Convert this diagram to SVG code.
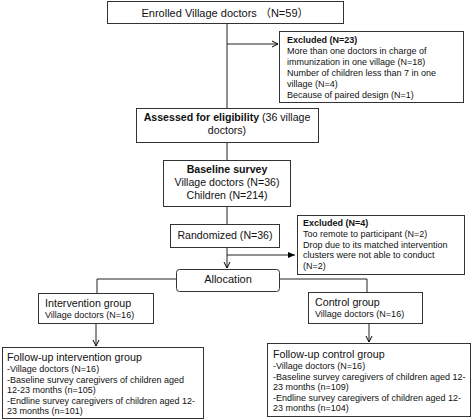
<svg xmlns="http://www.w3.org/2000/svg" width="472" height="420" viewBox="0 0 472 420">
<defs>
<marker id="open" markerWidth="8" markerHeight="8" refX="7" refY="4" orient="auto" markerUnits="userSpaceOnUse">
<path d="M1,1 L7,4 L1,7" fill="none" stroke="#000" stroke-width="1"/>
</marker>
<marker id="solid" markerWidth="8" markerHeight="8" refX="7" refY="4" orient="auto" markerUnits="userSpaceOnUse">
<path d="M0,1 L7,4 L0,7 Z" fill="#000"/>
</marker>
</defs>
<style>
rect{fill:#fff;stroke:#333;stroke-width:1}
text{font-family:"Liberation Sans",Arial,"Noto Sans CJK SC",sans-serif;fill:#111}
.c{text-anchor:middle}
.l{font-size:11px}
.t{font-size:10.7px}
.m{font-size:10.6px}
.s{font-size:9px}
.b{font-weight:bold}
.ln{fill:none;stroke:#222;stroke-width:1}
</style>
<g id="connectors">
<path class="ln" d="M227,23 V108"/>
<path class="ln" d="M227,44 H278" marker-end="url(#open)"/>
<path class="ln" d="M227,143 V160"/>
<path class="ln" d="M227,206 V224"/>
<path class="ln" d="M227,247 V268" marker-end="url(#open)"/>
<path class="ln" d="M227,255 H295" marker-end="url(#solid)"/>
<path class="ln" d="M176,279 H97 V293"/>
<path class="ln" d="M279,279 H367 V292"/>
<path class="ln" d="M96,323 V346" marker-end="url(#open)"/>
<path class="ln" d="M369,323 V342" marker-end="url(#open)"/>
</g>
<g id="enrolled">
<rect x="107.5" y="1.5" width="236" height="22"/>
<text class="l c" x="225" y="16.5">Enrolled Village doctors （N=59）</text>
</g>
<g id="excluded1">
<rect x="279.5" y="31.5" width="184" height="71"/>
<text class="s" x="287" y="43"><tspan class="b">Excluded (N=23)</tspan><tspan x="287" dy="11.2">More than one doctors in charge of</tspan><tspan x="287" dy="11">immunization in one village (N=18)</tspan><tspan x="287" dy="11">Number of children less than 7 in one</tspan><tspan x="287" dy="11">village (N=4)</tspan><tspan x="287" dy="10.5">Because of paired design (N=1)</tspan></text>
</g>
<g id="assessed">
<rect x="136.5" y="108.5" width="182" height="34"/>
<text class="m c" x="227" y="121"><tspan class="b">Assessed for eligibility</tspan> (36 village<tspan x="227" dy="13">doctors)</tspan></text>
</g>
<g id="baseline">
<rect x="163.5" y="160.5" width="127" height="46"/>
<text class="m c" x="227" y="173"><tspan class="b">Baseline survey</tspan><tspan x="227" dy="13">Village doctors (N=36)</tspan><tspan x="227" dy="13">Children (N=214)</tspan></text>
</g>
<g id="randomized">
<rect x="170.5" y="224.5" width="109" height="23"/>
<text class="m c" x="225" y="238.5">Randomized (N=36)</text>
</g>
<g id="excluded2">
<rect x="297.5" y="215.5" width="167" height="59"/>
<text class="s" x="303" y="226"><tspan class="b">Excluded (N=4)</tspan><tspan x="303" dy="11">Too remote to participant (N=2)</tspan><tspan x="303" dy="10.5">Drop due to its matched intervention</tspan><tspan x="303" dy="10.5">clusters were not able to conduct</tspan><tspan x="303" dy="10.5">(N=2)</tspan></text>
</g>
<g id="allocation">
<rect x="176.5" y="269.5" width="103" height="22" rx="3"/>
<text class="l c" x="228" y="283">Allocation</text>
</g>
<g id="intervention">
<rect x="38.5" y="293.5" width="115" height="30"/>
<text class="t" x="45" y="307">Intervention group</text>
<text class="s" x="45" y="318">Village doctors (N=16)</text>
</g>
<g id="control">
<rect x="308.5" y="292.5" width="114" height="31"/>
<text class="t" x="315" y="306">Control group</text>
<text class="s" x="315" y="317">Village doctors (N=16)</text>
</g>
<g id="followup-intervention">
<rect x="2.5" y="347.5" width="201" height="71"/>
<text class="t" x="7" y="361">Follow-up intervention group</text>
<text class="s" x="7" y="372"><tspan>-Village doctors (N=16)</tspan><tspan x="7" dy="10.5">-Baseline survey caregivers of children aged</tspan><tspan x="7" dy="10.5">12-23 months (n=105)</tspan><tspan x="7" dy="10.5">-Endline survey caregivers of children  aged 12-</tspan><tspan x="7" dy="10.5">23 months  (n=101)</tspan></text>
</g>
<g id="followup-control">
<rect x="267.5" y="343.5" width="203" height="73"/>
<text class="t" x="273" y="358">Follow-up control group</text>
<text class="s" x="273" y="369"><tspan>-Village doctors (N=16)</tspan><tspan x="273" dy="10.5">-Baseline survey caregivers of children aged 12-</tspan><tspan x="273" dy="10.5">23 months  (n=109)</tspan><tspan x="273" dy="10.5">-Endline survey caregivers of children  aged 12-</tspan><tspan x="273" dy="10.5">23 months  (n=104)</tspan></text>
</g>
</svg>
